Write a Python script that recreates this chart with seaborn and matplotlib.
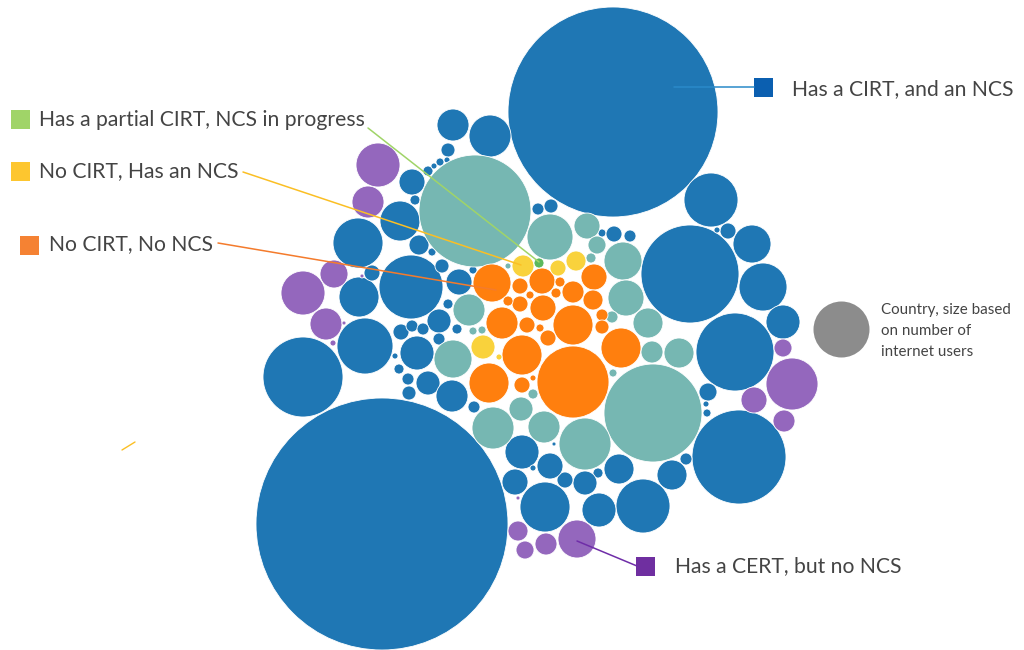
import numpy as np
import pandas as pd
import matplotlib
matplotlib.use("Agg")
import matplotlib.pyplot as plt
from matplotlib.patches import Rectangle
import seaborn as sns

# =========================================================
# data: bubble layout (chart pixel space), radius ~ internet users
# =========================================================

bubble_x = [613, 382, 690, 739, 303, 735, 411, 711, 763, 752, 783, 358, 365, 359, 400,
            453, 490, 412, 419, 448, 415, 428, 434, 440, 447, 432, 372, 442, 459, 473,
            439, 448, 457, 401, 412, 423, 417, 439, 399, 408, 428, 409, 395, 452, 474,
            538, 551, 602, 614, 630, 728, 717, 708, 706, 707, 686, 672, 619, 643, 599,
            598, 585, 565, 545, 550, 515, 522, 533, 554,
            475, 653, 585, 550, 587, 597, 591, 623, 626, 648, 652, 679, 612, 613, 469,
            453, 493, 521, 544, 533, 508, 473, 482,
            573, 492, 520, 542, 560, 556, 573, 594, 593, 520, 508, 530, 543, 602, 602,
            573, 527, 548, 540, 502, 522, 621, 489, 522, 533,
            523, 558, 576, 483, 499,
            539,
            378, 368, 334, 303, 326, 333, 344, 362, 792, 754, 784, 783, 577, 546, 518,
            525, 518]
bubble_y = [112, 524, 274, 457, 377, 352, 287, 200, 287, 244, 322, 243, 346, 297, 221,
            125, 136, 182, 245, 150, 200, 171, 166, 162, 160, 252, 273, 266, 282, 270,
            321, 304, 329, 332, 326, 329, 353, 339, 369, 379, 383, 393, 356, 396, 407,
            209, 206, 233, 234, 236, 231, 230, 392, 404, 413, 459, 475, 469, 506, 510,
            473, 483, 480, 507, 466, 482, 452, 468, 444,
            211, 413, 444, 237, 226, 245, 258, 261, 298, 323, 352, 353, 317, 373, 310,
            359, 428, 409, 427, 394, 266, 331, 330,
            382, 283, 286, 281, 282, 293, 292, 277, 300, 304, 301, 295, 308, 315, 327,
            325, 325, 338, 328, 323, 355, 348, 383, 385, 378,
            266, 268, 261, 347, 357,
            263,
            165, 202, 274, 293, 324, 343, 323, 276, 384, 400, 421, 348, 539, 544, 531,
            550, 498]
bubble_r = [105, 126, 49, 47, 40, 39, 32, 27, 24, 19, 17, 25, 28, 20, 20,
            16, 21, 13, 10, 7, 5, 5, 3, 4, 3, 4, 8, 7, 13, 4,
            12, 5, 5, 8, 6, 6, 17, 6, 5, 6, 12, 7, 3, 16, 6,
            6, 7, 4, 8, 6, 8, 3, 9, 3, 4, 6, 15, 15, 27, 17,
            5, 12, 8, 25, 13, 13, 17, 3, 2,
            56, 49, 26, 23, 13, 9, 5, 19, 18, 15, 11, 15, 6, 4, 16,
            19, 21, 12, 16, 5, 3, 4, 4,
            36, 19, 8, 13, 5, 5, 11, 13, 10, 8, 5, 4, 13, 6, 7,
            20, 8, 8, 4, 16, 20, 20, 20, 8, 3,
            11, 8, 10, 12, 3,
            5,
            22, 16, 14, 22, 16, 3, 2, 2, 26, 13, 11, 9, 19, 11, 10,
            9, 2]
bubble_status = (["cirt_ncs"] * 69 + ["partial"] * 23 + ["no_cirt_no_ncs"] * 25
                 + ["no_cirt_ncs"] * 5 + ["partial_ncs_prog"] * 1 + ["cert_no_ncs"] * 17)

status_colors = {
    "cirt_ncs": "#1f77b4",
    "partial": "#76b7b2",
    "no_cirt_no_ncs": "#ff7f0e",
    "no_cirt_ncs": "#f9d23c",
    "partial_ncs_prog": "#5cb85c",
    "cert_no_ncs": "#9467bd",
}

legend_labels = ["Has a partial CIRT, NCS in progress", "No CIRT, Has an NCS",
                 "No CIRT, No NCS", "Has a CIRT, and an NCS", "Has a CERT, but no NCS"]
legend_colors = ["#a0d468", "#fdc62f", "#f58233", "#0b5fb0", "#6f2fa0"]
line_colors = ["#a0d468", "#fbbf24", "#f47b2c", "#2a8ac9", "#6f2da8"]

df = pd.DataFrame({"x": bubble_x, "y": bubble_y, "r": bubble_r, "status": bubble_status})

# =========================================================
# figure
# =========================================================

sns.set_theme(style="white")
plt.rcParams["font.family"] = ["Lato", "DejaVu Sans"]

fig = plt.figure(figsize=(10.24, 6.5), dpi=100)
ax = fig.add_axes([0, 0, 1, 1])
ax.set_xlim(0, 1024)
ax.set_ylim(650, 0)
ax.set_aspect("equal")
ax.axis("off")

# 1 data unit = 1 px = 0.72 pt -> marker area in pt^2
df["s"] = (2 * df["r"] * 0.72) ** 2

sns.scatterplot(
    data=df, x="x", y="y", hue="status", palette=status_colors,
    s=df["s"].values, edgecolor="white", linewidth=0.6,
    legend=False, ax=ax
)

# size legend bubble
ax.scatter([841], [329], s=(2 * 28 * 0.72) ** 2, color="#8c8c8c", linewidth=0)
ax.text(881, 331, "Country, size based\non number of\ninternet users",
        fontsize=10.9, color="#444444", va="center", ha="left", linespacing=1.6)

# =========================================================
# callouts
# =========================================================

text_color = "#444444"
fs = 15.2

# left legend entries
squares = [(11, 110), (11, 162), (20, 236)]
text_pos = [(39, 120), (39, 171), (49, 244)]
lines = [((368, 128), (539, 262)), ((243, 172), (521, 265)), ((218, 243), (496, 290))]
for i in range(3):
    ax.add_patch(Rectangle(squares[i], 19, 19, color=legend_colors[i], lw=0))
    ax.text(*text_pos[i], legend_labels[i], fontsize=fs, color=text_color,
            va="center", ha="left")
    (x0, y0), (x1, y1) = lines[i]
    ax.plot([x0, x1], [y0, y1], color=line_colors[i], lw=1.1)

# right: CIRT and NCS
ax.plot([674, 754], [87, 87], color=line_colors[3], lw=1.1)
ax.add_patch(Rectangle((754, 78), 19, 19, color=legend_colors[3], lw=0))
ax.text(792, 89, legend_labels[3], fontsize=fs, color=text_color, va="center", ha="left")

# bottom: CERT no NCS
ax.plot([577, 637], [541, 566], color=line_colors[4], lw=1.1)
ax.add_patch(Rectangle((636, 557), 19, 19, color=legend_colors[4], lw=0))
ax.text(675, 566, legend_labels[4], fontsize=fs, color=text_color, va="center", ha="left")

# stray tick
ax.plot([122, 135], [450, 442], color="#fbbf24", lw=1)

fig.savefig("out.png", dpi=100)
